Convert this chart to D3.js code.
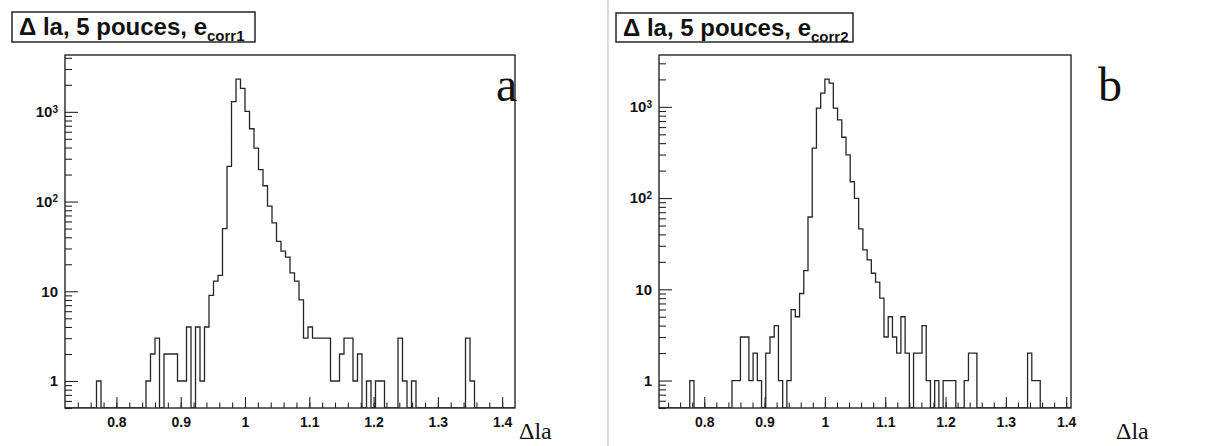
<!DOCTYPE html>
<html>
<head>
<meta charset="utf-8">
<script src="https://cdn.jsdelivr.net/npm/d3@7"></script>
<style>
  body { margin: 0; background: #fff; }
  svg { display: block; }
</style>
</head>
<body>
<script>
// histogram binning (100 bins)
const histLo = 0.72;
const binWidth = 0.007;

// counts per bin (panel a, e_corr1)
const countsA = [
  0, 0, 0, 0, 0, 0, 0, 1, 0, 0,
  0, 0, 0, 0, 0, 0, 0, 0, 1, 2,
  3, 0, 2, 2, 2, 1, 1, 4, 0, 4,
  1, 4, 9, 13, 15, 50, 247, 1300, 2310, 1830,
  1010, 648, 395, 227, 150, 89, 58, 36, 28, 24,
  16, 13, 8, 3, 4, 3, 3, 3, 3, 1,
  1, 2, 3, 3, 1, 2, 0, 1, 0, 1,
  1, 0, 0, 0, 3, 1, 0, 1, 0, 0,
  0, 0, 0, 0, 0, 0, 0, 0, 0, 3,
  1, 0, 0, 0, 0, 0, 0, 0, 0, 0
];

// counts per bin (panel b, e_corr2)
const countsB = [
  0, 0, 0, 0, 0, 0, 0, 0, 1, 0,
  0, 0, 0, 0, 0, 0, 0, 0, 1, 1,
  3, 3, 1, 2, 1, 0, 2, 3, 4, 1,
  0, 1, 6, 5, 9, 16, 62, 352, 968, 1415,
  2015, 1820, 968, 720, 464, 297, 151, 99, 46, 27,
  21, 15, 12, 8, 3, 5, 3, 2, 5, 2,
  0, 2, 2, 4, 1, 0, 1, 0, 1, 1,
  1, 0, 0, 1, 2, 2, 0, 0, 0, 0,
  0, 0, 0, 0, 0, 0, 0, 0, 2, 1,
  1, 0, 0, 0, 0, 0, 0, 0, 0, 0
];

const xMajor = [0.8, 0.9, 1, 1.1, 1.2, 1.3, 1.4];
const yMajor = [1, 10, 100, 1000];
const yLabels = [["1", ""], ["10", ""], ["10", "2"], ["10", "3"]];

const panels = [
  { counts: countsA, sub: "corr1", letter: "a",
    left: 65, right: 515, top: 55, bottom: 408,
    xDomain: [0.72, 1.42], yDomain: [0.5, 4300],
    box: [12, 12, 243, 30], letterX: 496, xLabelX: 519 },
  { counts: countsB, sub: "corr2", letter: "b",
    left: 659, right: 1071, top: 55, bottom: 408,
    xDomain: [0.725, 1.408], yDomain: [0.5, 3700],
    box: [616, 13, 237, 29], letterX: 1098, xLabelX: 1116 }
];

const svg = d3.select("body").append("svg")
  .attr("width", 1215)
  .attr("height", 446);

// page separator from the scan
svg.append("line")
  .attr("x1", 608).attr("x2", 608)
  .attr("y1", 0).attr("y2", 446)
  .attr("stroke", "#c4c4c4")
  .attr("stroke-width", 1.2);

const ink = "#262626";

panels.forEach((p, pi) => {
  const x = d3.scaleLinear().domain(p.xDomain).range([p.left, p.right]);
  const y = d3.scaleLog().domain(p.yDomain).range([p.bottom, p.top]);

  const g = svg.append("g");

  // title box
  g.append("rect")
    .attr("x", p.box[0]).attr("y", p.box[1])
    .attr("width", p.box[2]).attr("height", p.box[3])
    .attr("fill", "#fff")
    .attr("stroke", ink)
    .attr("stroke-width", 1.5);

  const title = g.append("text")
    .attr("x", p.box[0] + 7)
    .attr("y", p.box[1] + 23)
    .attr("font-family", "Liberation Sans, Arial, sans-serif")
    .attr("font-weight", "bold")
    .attr("font-size", 24)
    .attr("fill", "#111");
  title.append("tspan").text("\u0394 la, 5 pouces, e");
  title.append("tspan")
    .attr("font-size", 15)
    .attr("dy", 6)
    .text(p.sub);

  // clip region for the histogram
  const clipId = "clip" + pi;
  svg.append("clipPath").attr("id", clipId)
    .append("rect")
    .attr("x", p.left).attr("y", p.top)
    .attr("width", p.right - p.left).attr("height", p.bottom - p.top);

  // histogram outline
  const yb = p.bottom;
  const yv = c => (c > 0 ? y(c) : yb);
  let d = `M${x(histLo)},${yb}`;
  p.counts.forEach((c, i) => {
    d += `V${yv(c)}H${x(histLo + (i + 1) * binWidth)}`;
  });
  d += `V${yb}`;

  g.append("path")
    .attr("d", d)
    .attr("clip-path", `url(#${clipId})`)
    .attr("fill", "none")
    .attr("stroke", ink)
    .attr("stroke-width", 1.3);

  // x axis: major ticks with labels, minor every 0.02
  const xMinor = d3.range(0.74, 1.42, 0.02).filter(v =>
    v >= p.xDomain[0] && v <= p.xDomain[1]);

  g.append("g")
    .attr("transform", `translate(0,${p.bottom})`)
    .call(d3.axisBottom(x).tickValues(xMinor).tickSize(-5.5).tickFormat(""))
    .call(a => a.select(".domain").remove())
    .call(a => a.selectAll("line").attr("stroke", ink).attr("stroke-width", 1.1));

  g.append("g")
    .attr("transform", `translate(0,${p.bottom})`)
    .call(d3.axisBottom(x).tickValues(xMajor).tickSize(-11).tickPadding(9)
      .tickFormat(d3.format("")))
    .call(a => a.select(".domain").remove())
    .call(a => a.selectAll("line").attr("stroke", ink).attr("stroke-width", 1.1))
    .call(a => a.selectAll("text")
      .attr("font-family", "Liberation Sans, Arial, sans-serif")
      .attr("font-weight", "bold")
      .attr("font-size", 14)
      .attr("fill", "#111"));

  // y axis: decades with labels, minor 2..9 per decade
  const yMinor = [];
  [0.1, 1, 10, 100, 1000].forEach(dec => {
    for (let m = 2; m <= 9; m++) {
      const v = m * dec;
      if (v >= p.yDomain[0] && v <= p.yDomain[1]) yMinor.push(v);
    }
  });

  g.append("g")
    .attr("transform", `translate(${p.left},0)`)
    .call(d3.axisLeft(y).tickValues(yMinor).tickSize(-7).tickFormat(""))
    .call(a => a.select(".domain").remove())
    .call(a => a.selectAll("line").attr("stroke", ink).attr("stroke-width", 1.1));

  g.append("g")
    .attr("transform", `translate(${p.left},0)`)
    .call(d3.axisLeft(y).tickValues(yMajor).tickSize(-13).tickPadding(7).tickFormat(""))
    .call(a => a.select(".domain").remove())
    .call(a => a.selectAll("line").attr("stroke", ink).attr("stroke-width", 1.1))
    .call(a => a.selectAll(".tick text").each(function(v, i) {
      const t = d3.select(this)
        .attr("font-family", "Liberation Sans, Arial, sans-serif")
        .attr("font-weight", "bold")
        .attr("font-size", 15)
        .attr("fill", "#111");
      t.append("tspan").text(yLabels[i][0]);
      if (yLabels[i][1]) {
        t.append("tspan").attr("dy", "-0.45em").attr("font-size", 10).text(yLabels[i][1]);
      }
    }));

  // frame
  g.append("rect")
    .attr("x", p.left).attr("y", p.top)
    .attr("width", p.right - p.left).attr("height", p.bottom - p.top)
    .attr("fill", "none")
    .attr("stroke", ink)
    .attr("stroke-width", 1.4);

  // axis title
  g.append("text")
    .attr("x", p.xLabelX)
    .attr("y", 439)
    .attr("font-family", "Liberation Serif, Times New Roman, serif")
    .attr("font-size", 24)
    .attr("fill", "#111")
    .text("\u0394la");

  // panel letter
  g.append("text")
    .attr("x", p.letterX)
    .attr("y", 101)
    .attr("font-family", "Liberation Serif, Times New Roman, serif")
    .attr("font-size", 48)
    .attr("fill", "#111")
    .text(p.letter);
});
</script>
</body>
</html>
